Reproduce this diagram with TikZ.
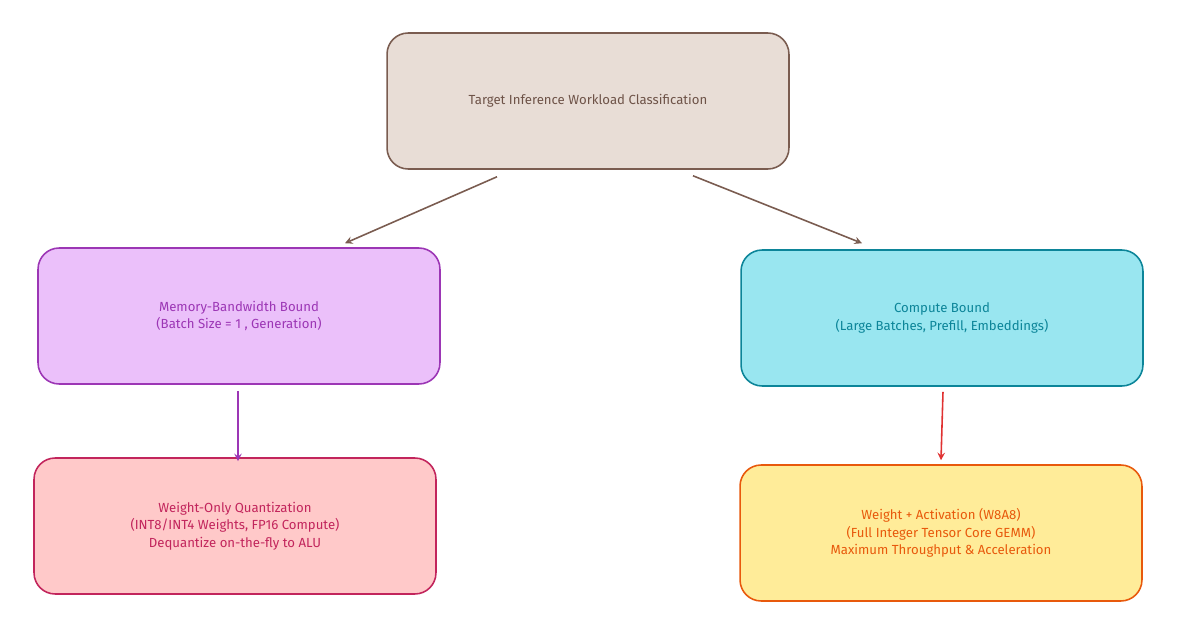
\documentclass[tikz,border=0pt]{standalone}
\usepackage{fontspec}
\setmainfont{Fira Sans}
\usetikzlibrary{positioning}
\definecolor{topfill}{HTML}{E8DDD6}
\definecolor{topdraw}{HTML}{7A5C50}
\definecolor{memfill}{HTML}{EBC0FA}
\definecolor{memdraw}{HTML}{9C36B5}
\definecolor{cmpfill}{HTML}{99E6F0}
\definecolor{cmpdraw}{HTML}{0C8599}
\definecolor{wofill}{HTML}{FFC9C9}
\definecolor{wodraw}{HTML}{C2255C}
\definecolor{wafill}{HTML}{FFEC99}
\definecolor{wadraw}{HTML}{E8590C}
\definecolor{redarrow}{HTML}{E03131}
\begin{document}
\begin{tikzpicture}[x=0.02cm, y=-0.02cm]
	\tikzset{box/.style={rounded corners=12pt, line width=0.9pt, minimum width=8.04cm, minimum height=2.72cm, align=center, font=\fontsize{7.5}{10}\selectfont}};
	\tikzset{arr/.style={->, line width=0.9pt, >=stealth}};
	\useasboundingbox (0,0) rectangle (1178,635);
	\node[box, fill=topfill, draw=topdraw, text=topdraw!90!black] (top) at (588,101) {Target Inference Workload Classification};
	\node[box, fill=memfill, draw=memdraw, text=memdraw] (mem) at (239,316) {Memory-Bandwidth Bound\\(Batch Size = 1 , Generation)};
	\node[box, fill=cmpfill, draw=cmpdraw, text=cmpdraw] (cmp) at (942,318) {Compute Bound\\(Large Batches, Prefill, Embeddings)};
	\node[box, fill=wofill, draw=wodraw, text=wodraw] (wo) at (235,526) {Weight-Only Quantization\\(INT8/INT4 Weights, FP16 Compute)\\Dequantize on-the-fly to ALU};
	\node[box, fill=wafill, draw=wadraw, text=wadraw] (wa) at (941,533) {Weight + Activation (W8A8)\\(Full Integer Tensor Core GEMM)\\Maximum Throughput \& Acceleration};

	\draw[arr, topdraw] ([shift={(-91,7)}]top.south) -- ([shift={(106,-4)}]mem.north);
	\draw[arr, topdraw] ([shift={(105,6)}]top.south) -- ([shift={(-80,-6)}]cmp.north);
	\draw[arr, memdraw] ([shift={(-1,6)}]mem.south) -- ([shift={(3,4)}]wo.north);
	\draw[arr, redarrow] ([shift={(1,5)}]cmp.south) -- ([shift={(0,-4)}]wa.north);
\end{tikzpicture}
\end{document}
